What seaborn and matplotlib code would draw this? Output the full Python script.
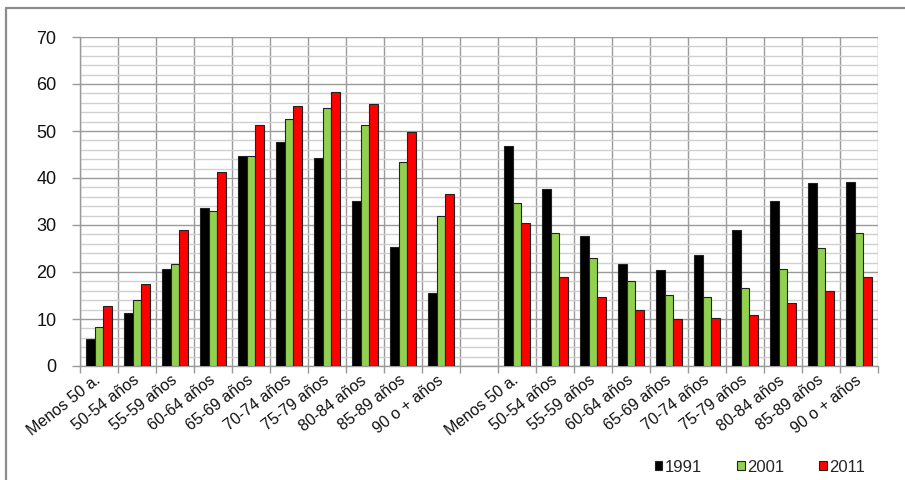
import matplotlib
matplotlib.use("Agg")
import matplotlib.pyplot as plt
from matplotlib.lines import Line2D
from matplotlib.patches import Patch
import seaborn as sns
import pandas as pd
import numpy as np

# Age-group labels (same set for both panels of the chart)
age_groups = ["Menos 50 a.", "50-54 años", "55-59 años", "60-64 años", "65-69 años",
              "70-74 años", "75-79 años", "80-84 años", "85-89 años", "90 o + años"]
years = ["1991", "2001", "2011"]

# First block
left_1991 = [5.7, 11.3, 20.7, 33.7, 44.6, 47.6, 44.2, 35.2, 25.4, 15.6]
left_2001 = [8.4, 14.1, 21.8, 33.0, 44.6, 52.6, 55.0, 51.2, 43.4, 31.9]
left_2011 = [12.8, 17.4, 29.0, 41.2, 51.2, 55.4, 58.3, 55.8, 49.8, 36.7]

# Second block
right_1991 = [46.9, 37.6, 27.6, 21.8, 20.4, 23.7, 28.9, 35.2, 38.9, 39.1]
right_2001 = [34.7, 28.4, 23.0, 18.0, 15.2, 14.7, 16.7, 20.6, 25.2, 28.4]
right_2011 = [30.4, 18.9, 14.7, 11.9, 10.0, 10.2, 10.8, 13.4, 16.0, 18.9]

palette = {"1991": "#000000", "2001": "#92D050", "2011": "#FF0000"}

# Build a long table; slot keys keep the two blocks apart, with an empty slot between
left_keys = [f"L{i}" for i in range(len(age_groups))]
right_keys = [f"R{i}" for i in range(len(age_groups))]
order = left_keys + ["gap"] + right_keys
tick_labels = age_groups + [""] + age_groups

rows = []
for keys, series in ((left_keys, (left_1991, left_2001, left_2011)),
                     (right_keys, (right_1991, right_2001, right_2011))):
    for year, vals in zip(years, series):
        for k, v in zip(keys, vals):
            rows.append({"slot": k, "year": year, "value": v})
df = pd.DataFrame(rows)

sns.set_theme(style="white")
plt.rcParams["font.family"] = ["Liberation Sans", "DejaVu Sans"]

fig = plt.figure(figsize=(9.05, 4.8), dpi=100)
ax = fig.add_axes([80 / 905, 1 - 366 / 480, (878 - 80) / 905, (366 - 37) / 480])

sns.barplot(data=df, x="slot", y="value", hue="year", order=order, hue_order=years,
            palette=palette, width=0.66, edgecolor="#222222", linewidth=0.8,
            saturation=1, errorbar=None, ax=ax, legend=False, zorder=3)

n = len(order)
ax.set_xlim(-0.5, n - 0.5)
ax.set_ylim(0, 70)

# Grid: major every 10, minor every 2, vertical lines on slot boundaries
ax.set_yticks(np.arange(0, 71, 10))
ax.set_yticks(np.arange(0, 71, 2), minor=True)
ax.set_xticks(np.arange(n))
ax.set_xticks(np.arange(n + 1) - 0.5, minor=True)
ax.set_axisbelow(True)
ax.grid(which="major", axis="y", color="#9a9a9a", linewidth=1.0)
ax.grid(which="minor", axis="y", color="#d0d0d0", linewidth=1.0)
ax.grid(which="minor", axis="x", color="#9a9a9a", linewidth=1.0)
ax.grid(which="major", axis="x", visible=False)

ax.set_xticklabels(tick_labels, rotation=38, ha="right", va="center",
                   rotation_mode="anchor", fontsize=11.5, color="#111111")
ax.tick_params(axis="x", which="major", length=0, pad=9)
ax.tick_params(axis="x", which="minor", length=5, width=1, color="#9a9a9a", bottom=True)
ax.tick_params(axis="y", which="major", length=6, width=1, color="#9a9a9a",
               labelsize=13, pad=11, left=True, labelcolor="#111111")
ax.tick_params(axis="y", which="minor", length=0)

for side in ("top", "right"):
    ax.spines[side].set_visible(False)
for side in ("left", "bottom"):
    ax.spines[side].set_color("#9a9a9a")
    ax.spines[side].set_linewidth(1.0)

ax.set_xlabel("")
ax.set_ylabel("")

# Legend along the bottom right
handles = [Patch(facecolor=palette[y], edgecolor="#222222", linewidth=0.8, label=y)
           for y in years]
fig.legend(handles=handles, loc="center", bbox_to_anchor=(760 / 905, 1 - 467 / 480),
           ncol=3, frameon=False, fontsize=12, handlelength=0.45, handleheight=0.45,
           handletextpad=0.15, columnspacing=2.1, borderpad=0.2)

# Outer chart frame
frame_color = "#8c8c8c"
fig.add_artist(Line2D([6 / 905, 1.0], [1 - 8 / 480, 1 - 8 / 480],
                      transform=fig.transFigure, color=frame_color, linewidth=1.6))
fig.add_artist(Line2D([6 / 905, 6 / 905], [0.0, 1 - 8 / 480],
                      transform=fig.transFigure, color=frame_color, linewidth=1.6))

fig.savefig("out.png", dpi=100)
